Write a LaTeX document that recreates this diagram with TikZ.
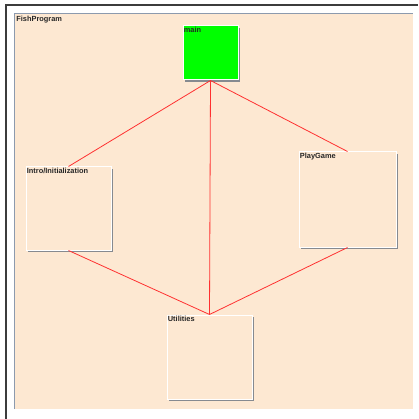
\documentclass[tikz,border=0pt]{standalone}
\usepackage{fontspec}
\setmainfont{Liberation Sans}
\usetikzlibrary{shadows}
\definecolor{quadro}{HTML}{3C3C3C}
\definecolor{painel}{HTML}{FDE8D2}
\definecolor{painelbd}{HTML}{8C9AAE}
\definecolor{sombra}{HTML}{868A90}
\definecolor{verde}{HTML}{00FF00}
\definecolor{lig}{HTML}{FF3030}
\tikzset{
  modulo/.style={draw=white,line width=1pt,fill=painel,inner sep=0pt,
    general shadow={fill=sombra,shadow xshift=2.2pt,shadow yshift=-2.2pt}},
  rotulo/.style={font=\fontsize{7.4}{8}\selectfont\bfseries,text=black!85,inner sep=1.2pt},
  ligacao/.style={draw=lig,line width=0.8pt},
}
\begin{document}
\begin{tikzpicture}[x=1pt,y=-1pt]
  \useasboundingbox (0,0) rectangle (418,419);
  \fill[white] (0,0) rectangle (418,419);
  % quadro externo
  \draw[quadro,line width=1.2pt] (6,419) -- (6,5) -- (418,5);
  % painel
  \fill[painel] (14,14) rectangle (412.5,409);
  \draw[painelbd,line width=1pt] (14,409) -- (14,14) -- (412.5,14);
  \node[rotulo,anchor=north west] (prog) at (15,15) {FishProgram};
  % modulos
  \node[modulo,fill=verde,minimum width=55pt,minimum height=54pt,
    label={[rotulo,anchor=north west]north west:main}] (main) at (210.5,53) {};
  \node[modulo,minimum width=85pt,minimum height=83pt,
    label={[rotulo,anchor=north west]north west:Intro/Initialization}] (intro) at (68.5,208.5) {};
  \node[modulo,minimum width=97pt,minimum height=95pt,
    label={[rotulo,anchor=north west]north west:PlayGame}] (play) at (347.5,199.5) {};
  \node[modulo,minimum width=85pt,minimum height=84pt,
    label={[rotulo,anchor=north west]north west:Utilities}] (util) at (209.5,357) {};
  % ligacoes
  \draw[ligacao] (main.south) -- (intro.north);
  \draw[ligacao] (main.south) -- (play.north);
  \draw[ligacao] (main.south) -- (util.north);
  \draw[ligacao] (intro.south) -- (util.north);
  \draw[ligacao] (play.south) -- (util.north);
\end{tikzpicture}
\end{document}
